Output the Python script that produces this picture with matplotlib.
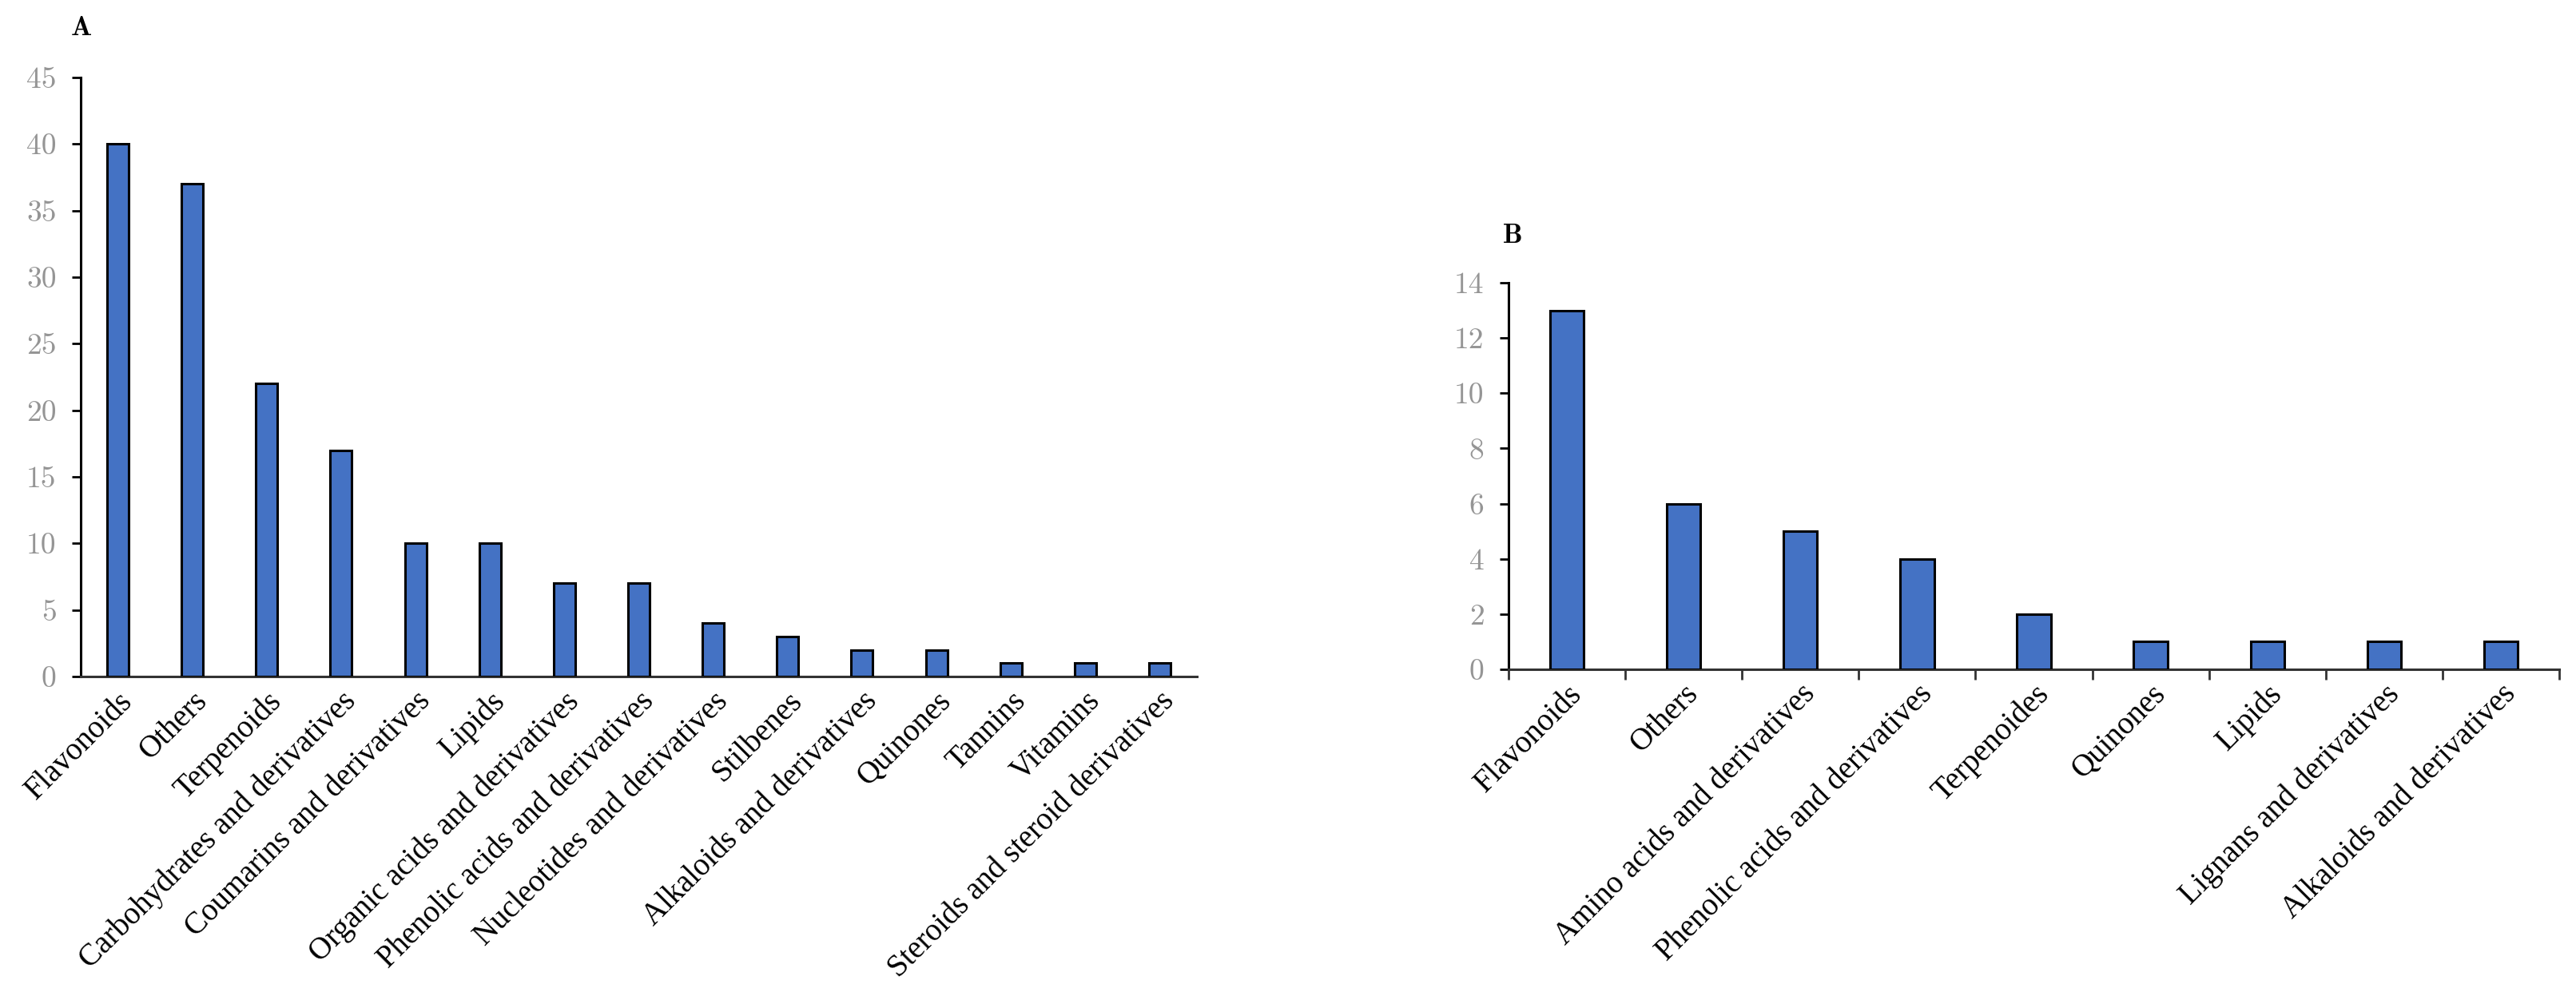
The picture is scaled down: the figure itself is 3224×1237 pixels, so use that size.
import matplotlib.pyplot as plt
import numpy as np

# panel A data
cats_a = ["Flavonoids", "Others", "Terpenoids", "Carbohydrates and derivatives",
          "Coumarins and derivatives", "Lipids", "Organic acids and derivatives",
          "Phenolic acids and derivatives", "Nucleotides and derivatives", "Stilbenes",
          "Alkaloids and derivatives", "Quinones", "Tannins", "Vitamins",
          "Steroids and steroid derivatives"]
vals_a = [40, 37, 22, 17, 10, 10, 7, 7, 4, 3, 2, 2, 1, 1, 1]
yticks_a = [0, 5, 10, 15, 20, 25, 30, 35, 40, 45]

# panel B data
cats_b = ["Flavonoids", "Others", "Amino acids and derivatives",
          "Phenolic acids and derivatives", "Terpenoides", "Quinones", "Lipids",
          "Lignans and derivatives", "Alkaloids and derivatives"]
vals_b = [13, 6, 5, 4, 2, 1, 1, 1, 1]
yticks_b = [0, 2, 4, 6, 8, 10, 12, 14]

bar_color = "#4472C4"
label_font = "Liberation Serif"
num_font = "cmr10"

fig = plt.figure(figsize=(32.24, 12.37), dpi=100)
axA = fig.add_axes([101/3224, 1 - 847/1237, (1498 - 101)/3224, (847 - 97)/1237])
axB = fig.add_axes([1888/3224, 1 - 838/1237, (3203 - 1888)/3224, (838 - 354)/1237])


def style(ax, cats, vals, yticks, xticks_on):
    x = np.arange(len(cats))
    ax.bar(x, vals, width=0.29, color=bar_color, edgecolor="black", linewidth=2.2, zorder=3)
    ax.set_xlim(-0.5, len(cats) - 0.5)
    ax.set_ylim(0, yticks[-1])
    ax.set_yticks(yticks)
    ax.set_yticklabels([str(t) for t in yticks], fontfamily=num_font, fontsize=27, color="#959595")
    ax.set_xticks(x)
    ax.set_xticklabels(cats, rotation=45, ha="right", va="top", rotation_mode="anchor",
                       fontfamily=label_font, fontsize=28, color="black")
    ax.tick_params(axis="x", length=0, pad=9)
    ax.tick_params(axis="y", length=8, width=2, direction="out", pad=14, color="black")
    for s in ["top", "right"]:
        ax.spines[s].set_visible(False)
    ax.spines["left"].set_linewidth(2.2)
    ax.spines["bottom"].set_linewidth(2.2)
    ax.spines["bottom"].set_color("#333333")
    if xticks_on:
        ax.set_xticks(np.arange(len(cats) + 1) - 0.5, minor=True)
        ax.tick_params(axis="x", which="minor", length=9, width=2, direction="out", color="#333333")


style(axA, cats_a, vals_a, yticks_a, False)
style(axB, cats_b, vals_b, yticks_b, True)

fig.text(102/3224, 1 - 36/1237, "A", fontfamily="cmb10", fontsize=25, ha="center", va="center")
fig.text(1893/3224, 1 - 296/1237, "B", fontfamily="cmb10", fontsize=25, ha="center", va="center")

fig.savefig("out.png", dpi=100)
